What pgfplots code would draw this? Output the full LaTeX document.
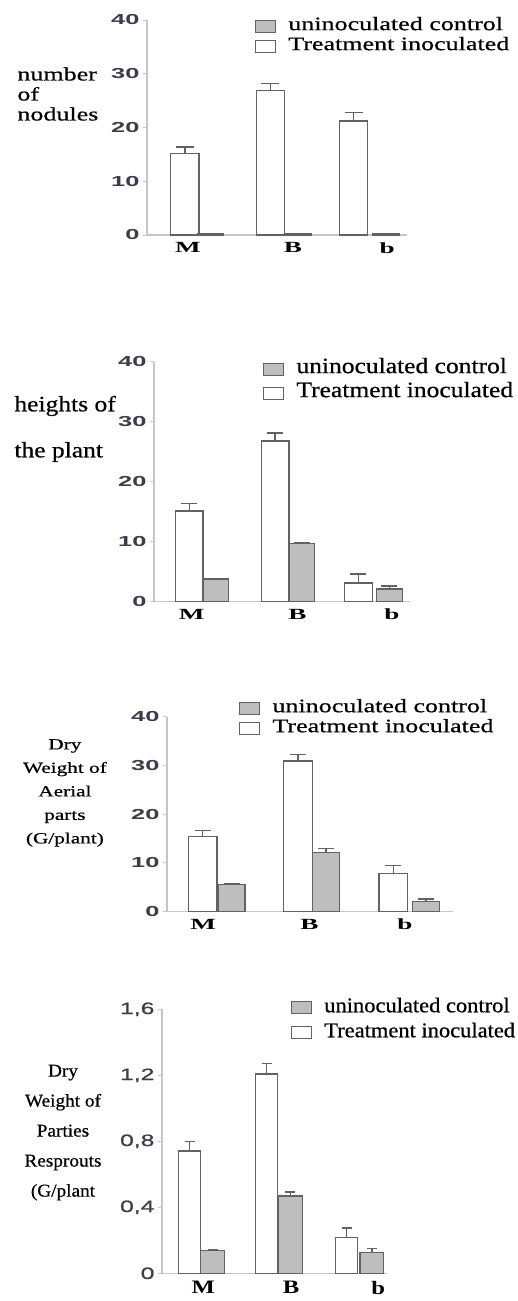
\documentclass[border=0pt]{standalone}
\usepackage{fontspec}
\usepackage{pgfplots}
\pgfplotsset{compat=1.18}
\setmainfont{Liberation Serif}
\newfontfamily\fA[FakeStretch=1.37,FakeBold=0.6]{Liberation Serif}
\newfontfamily\fB[FakeStretch=1.16,FakeBold=0.6]{Liberation Serif}
\newfontfamily\fD[FakeStretch=1.07,FakeBold=0.6]{Liberation Serif}
\newfontfamily\xlab[FakeStretch=1.75]{Liberation Serif Bold}
\newfontfamily\xlabD[FakeStretch=1.3]{Liberation Serif Bold}
\newfontfamily\tk[FakeStretch=1.75]{Liberation Sans Bold}
\newfontfamily\tkD[FakeStretch=1.5,FakeBold=0.8]{Liberation Sans}
\definecolor{barline}{HTML}{626262}
\definecolor{barfill}{HTML}{BEBEBE}
\definecolor{axline}{HTML}{C6C6C6}
\definecolor{ticklab}{HTML}{3C3C4A}
\pgfplotsset{
  panel/.style={
    scale only axis, anchor=south west, ymin=0,
    axis x line=bottom, axis y line=left,
    axis line style={-, draw=axline, line width=1.2pt},
    tick align=outside, major tick length=4pt,
    ytick style={draw=axline, line width=1pt},
    xtick style={draw=none},
    xticklabels={M,B,b},
    /pgf/number format/assume math mode=true,
    yticklabel style={text=ticklab},
    legend style={draw=none, fill=none, inner sep=0pt, column sep=12pt,
      legend cell align=left, text=black},
  },
  wbar/.style={ybar, bar shift=0pt, fill=white, draw=barline, line width=1.3pt,
    error bars/.cd, y dir=plus, y explicit,
    error bar style={line width=1.3pt, draw=barline},
    error mark options={rotate=90, line width=1.3pt, mark size=#1, draw=barline},
    /pgfplots/.cd},
  gbar/.style={ybar, bar shift=0pt, fill=barfill, draw=barline, line width=1.3pt,
    error bars/.cd, y dir=plus, y explicit,
    error bar style={line width=1.3pt, draw=barline},
    error mark options={rotate=90, line width=1.3pt, mark size=#1, draw=barline},
    /pgfplots/.cd},
  gleg/.style={legend image code/.code={\draw[fill=barfill, draw=barline, line width=1.2pt] (0pt,-6pt) rectangle (20pt,6pt);}},
  wleg/.style={legend image code/.code={\draw[fill=white, draw=barline, line width=1.2pt] (0pt,-6pt) rectangle (20pt,6pt);}},
}
\begin{document}
\begin{tikzpicture}
\useasboundingbox (0,0) rectangle (518pt,-1301pt);

% Panel 1: number of nodules
\begin{axis}[panel, at={(147pt,-235pt)}, width=260pt, height=215pt,
  xmin=-0.608, xmax=2.433, ymax=40, ytick={0,10,20,30,40},
  xtick={-0.13,1.1,2.2},
  yticklabel style={font=\tk\fontsize{14.5}{14.5}\selectfont},
  xticklabel style={font=\xlab\fontsize{15.5}{15.5}\selectfont},
  ylabel={number\\of\\nodules},
  ylabel style={rotate=-90, align=left, anchor=west, at={(axis description cs:-0.512,0.656)},
    font=\fA\fontsize{19}{20}\selectfont},
  legend style={at={(axis description cs:0.415,1.019)}, anchor=north west,
    nodes={inner sep=0pt, text height=14pt, text depth=6pt},
    font=\fA\fontsize{19}{20}\selectfont},
]
\addlegendimage{gleg}\addlegendentry{uninoculated control}
\addlegendimage{wleg}\addlegendentry{Treatment inoculated}
% white = Treatment inoculated, gray = uninoculated control; x = bar centres (groups M, B, b at 0, 1, 2)
\addplot[wbar=9pt, bar width=0.33, forget plot] coordinates {
  (-0.165,15.1) +- (0,1.3) (0.835,26.9) +- (0,1.3) (1.81,21.2) +- (0,1.6)};
\addplot[gbar=9pt, bar width=0.31, forget plot] coordinates {
  (0.135,0.25) +- (0,0) (1.165,0.25) +- (0,0) (2.19,0.2) +- (0,0)};
\end{axis}

% Panel 2: heights of the plant
\begin{axis}[panel, at={(154pt,-601.7pt)}, width=256pt, height=240pt,
  xmin=-0.57, xmax=2.41, ymax=40, ytick={0,10,20,30,40},
  xtick={-0.13,1.1,2.2},
  yticklabel style={font=\tk\fontsize{14.5}{14.5}\selectfont},
  xticklabel style={font=\xlab\fontsize{15.5}{15.5}\selectfont},
  ylabel={heights of\\the plant},
  ylabel style={rotate=-90, align=left, anchor=west, at={(axis description cs:-0.559,0.72)},
    font=\fB\fontsize{22}{46}\selectfont},
  legend style={at={(axis description cs:0.426,1.02)}, anchor=north west,
    nodes={inner sep=0pt, text height=16pt, text depth=8pt},
    font=\fB\fontsize{22}{24}\selectfont},
]
\addlegendimage{gleg}\addlegendentry{uninoculated control}
\addlegendimage{wleg}\addlegendentry{Treatment inoculated}
\addplot[wbar=8pt, bar width=0.32, forget plot] coordinates {
  (-0.16,15.1) +- (0,1.3) (0.84,26.8) +- (0,1.3) (1.81,3.1) +- (0,1.5)};
\addplot[gbar=8pt, bar width=0.3, forget plot] coordinates {
  (0.15,3.8) +- (0,0) (1.15,9.7) +- (0,0.1) (2.17,2.1) +- (0,0.5)};
\end{axis}

% Panel 3: dry weight of aerial parts
\begin{axis}[panel, at={(167pt,-911.7pt)}, width=286pt, height=195pt,
  xmin=-0.52, xmax=2.45, ymax=40, ytick={0,10,20,30,40},
  xtick={-0.145,0.96,1.95},
  yticklabel style={font=\tk\fontsize{14.5}{14.5}\selectfont},
  xticklabel style={font=\xlab\fontsize{15.5}{15.5}\selectfont},
  ylabel={Dry\\Weight of\\Aerial\\parts\\(G/plant)},
  ylabel style={rotate=-90, align=center, anchor=center, at={(axis description cs:-0.357,0.609)},
    font=\fA\fontsize{15.5}{23.5}\selectfont},
  legend style={at={(axis description cs:0.252,1.096)}, anchor=north west,
    nodes={inner sep=0pt, text height=14pt, text depth=6pt},
    font=\fA\fontsize{19}{20}\selectfont},
]
\addlegendimage{gleg}\addlegendentry{uninoculated control}
\addlegendimage{wleg}\addlegendentry{Treatment inoculated}
\addplot[wbar=8pt, bar width=0.3, forget plot] coordinates {
  (-0.15,15.4) +- (0,1.2) (0.84,30.9) +- (0,1.4) (1.83,7.9) +- (0,1.6)};
\addplot[gbar=8pt, bar width=0.28, forget plot] coordinates {
  (0.15,5.6) +- (0,0.1) (1.13,12.2) +- (0,0.7) (2.17,2.1) +- (0,0.5)};
\end{axis}

% Panel 4: dry weight of resprouts
\begin{axis}[panel, at={(162pt,-1273.3pt)}, width=225pt, height=264pt,
  xmin=-0.49, xmax=2.35, ymax=1.6, ytick={0,0.4,0.8,1.2,1.6},
  xtick={0.03,1.14,2.24},
  /pgf/number format/.cd, use comma, fixed, precision=1, /pgfplots/.cd,
  yticklabel style={font=\tkD\fontsize{16.5}{16.5}\selectfont},
  xticklabel style={font=\xlabD\fontsize{19}{19}\selectfont},
  ylabel={Dry\\Weight of\\Parties\\Resprouts\\(G/plant},
  ylabel style={rotate=-90, align=center, anchor=center, at={(axis description cs:-0.44,0.533)},
    font=\fD\fontsize{18}{30}\selectfont},
  legend style={at={(axis description cs:0.573,1.054)}, anchor=north west,
    nodes={inner sep=0pt, text height=17pt, text depth=8pt},
    font=\fD\fontsize{21}{25}\selectfont},
]
\addlegendimage{gleg}\addlegendentry{uninoculated control}
\addlegendimage{wleg}\addlegendentry{Treatment inoculated}
\addplot[wbar=5pt, bar width=0.28, forget plot] coordinates {
  (-0.14,0.741) +- (0,0.057) (0.83,1.208) +- (0,0.062) (1.84,0.218) +- (0,0.057)};
\addplot[gbar=5pt, bar width=0.3, forget plot] coordinates {
  (0.15,0.137) +- (0,0.005) (1.13,0.468) +- (0,0.025) (2.16,0.127) +- (0,0.025)};
\end{axis}
\end{tikzpicture}
\end{document}
